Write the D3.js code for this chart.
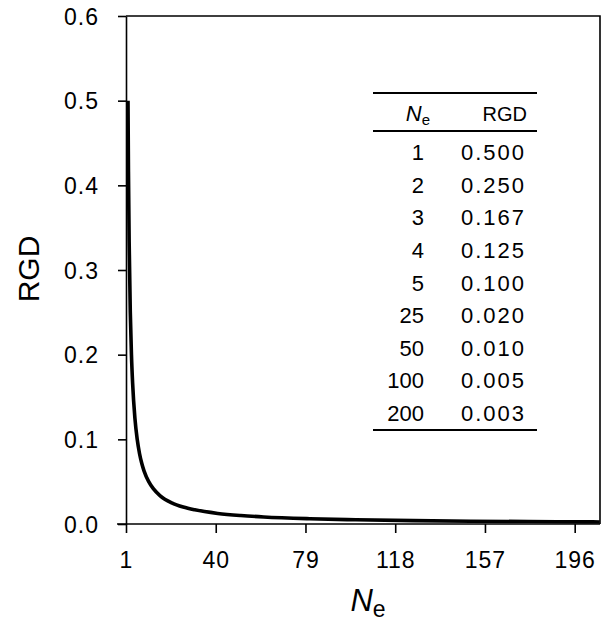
<!DOCTYPE html>
<html>
<head>
<meta charset="utf-8">
<script src="https://cdn.jsdelivr.net/npm/d3@7"></script>
<style>
  body { margin: 0; background: #fff; }
  text { font-family: "Liberation Sans", Arial, sans-serif; fill: #000; }
</style>
</head>
<body>
<script>
// Curve points
const curveNe = [1, 1.2, 1.5, 2, 2.5, 3, 4, 5, 6, 7, 8, 10, 12, 15, 20, 25, 30, 40, 50, 60, 80, 100, 125, 150, 175, 200, 206];
const curveRGD = [0.5, 0.4167, 0.3333, 0.25, 0.2, 0.1667, 0.125, 0.1, 0.0833, 0.0714, 0.0625, 0.05, 0.0417, 0.0333, 0.025, 0.02, 0.0167, 0.0125, 0.01, 0.0083, 0.00625, 0.005, 0.004, 0.0033, 0.0029, 0.0025, 0.0024];

// Inset table
const tableNe = ["1", "2", "3", "4", "5", "25", "50", "100", "200"];
const tableRGD = ["0.500", "0.250", "0.167", "0.125", "0.100", "0.020", "0.010", "0.005", "0.003"];

// Axis ticks
const xTicks = [1, 40, 79, 118, 157, 196];
const yTicks = [0, 0.1, 0.2, 0.3, 0.4, 0.5, 0.6];

const w = 609;
const h = 624;
const margin = { left: 126, right: 9, top: 16, bottom: 100 };

const svg = d3.select("body").append("svg").attr("width", w).attr("height", h);

const xScale = d3.scaleLinear().domain([1, 207]).range([margin.left, w - margin.right]);
const yScale = d3.scaleLinear().domain([0, 0.6]).range([h - margin.bottom, margin.top]);

// frame (top and right)
svg.append("path")
  .attr("d", "M" + xScale(1) + "," + yScale(0.6) + "H" + xScale(207) + "V" + yScale(0))
  .attr("fill", "none")
  .attr("stroke", "#000")
  .attr("stroke-width", 1.6);

// axes
const xAxis = d3.axisBottom(xScale).tickValues(xTicks).tickSize(9).tickPadding(19).tickSizeOuter(0);
const yAxis = d3.axisLeft(yScale).tickValues(yTicks).tickFormat(d3.format(".1f")).tickSize(8).tickPadding(19).tickSizeOuter(0);

const gx = svg.append("g")
  .attr("transform", "translate(0," + yScale(0) + ")")
  .call(xAxis);
const gy = svg.append("g")
  .attr("transform", "translate(" + xScale(1) + ",0)")
  .call(yAxis);

[gx, gy].forEach((g) => {
  g.selectAll("path, line").attr("stroke", "#000").attr("stroke-width", 1.6);
  g.selectAll("text").style("font-size", "23px").style("letter-spacing", "1px").attr("fill", "#000");
});
gy.selectAll("text").attr("dy", "0.36em");
gx.select(".domain").attr("d", "M" + (xScale(1) - 9) + ",0H" + xScale(207));

// curve
const curveData = curveNe.map((n, i) => [n, curveRGD[i]]);
svg.append("path")
  .datum(curveData)
  .attr("fill", "none")
  .attr("stroke", "#000")
  .attr("stroke-width", 3.6)
  .attr("d", d3.line()
    .x((d) => xScale(d[0]) + 2)
    .y((d) => yScale(d[1]))
    .curve(d3.curveMonotoneX));

// axis titles
svg.append("text")
  .attr("transform", "translate(39,269) rotate(-90)")
  .attr("text-anchor", "middle")
  .style("font-size", "30px")
  .text("RGD");

const xt = svg.append("text")
  .attr("x", 368)
  .attr("y", 611)
  .attr("text-anchor", "middle")
  .style("font-size", "31px");
xt.append("tspan").style("font-style", "italic").text("N");
xt.append("tspan").attr("dy", 6).style("font-size", "23px").text("e");

// inset table
const tLeft = 373, tRight = 537;
const colNe = 424, colRGD = 526;
const rowY = d3.scaleLinear().domain([0, tableNe.length - 1]).range([160, 421]);

[93, 131, 430].forEach((y) => {
  svg.append("line")
    .attr("x1", tLeft).attr("x2", tRight)
    .attr("y1", y).attr("y2", y)
    .attr("stroke", "#000")
    .attr("stroke-width", 1.8);
});

const hd = svg.append("text")
  .attr("x", 430)
  .attr("y", 121)
  .attr("text-anchor", "end")
  .style("font-size", "22px");
hd.append("tspan").style("font-style", "italic").text("N");
hd.append("tspan").attr("dy", 4).style("font-size", "15px").text("e");

svg.append("text")
  .attr("x", 527)
  .attr("y", 121)
  .attr("text-anchor", "end")
  .style("font-size", "20px")
  .text("RGD");

tableNe.forEach((n, i) => {
  svg.append("text")
    .attr("x", colNe)
    .attr("y", rowY(i))
    .attr("text-anchor", "end")
    .style("font-size", "22px")
    .text(n);
  svg.append("text")
    .attr("x", colRGD)
    .attr("y", rowY(i))
    .attr("text-anchor", "end")
    .style("font-size", "22px")
    .style("letter-spacing", "2px")
    .text(tableRGD[i]);
});
</script>
</body>
</html>
